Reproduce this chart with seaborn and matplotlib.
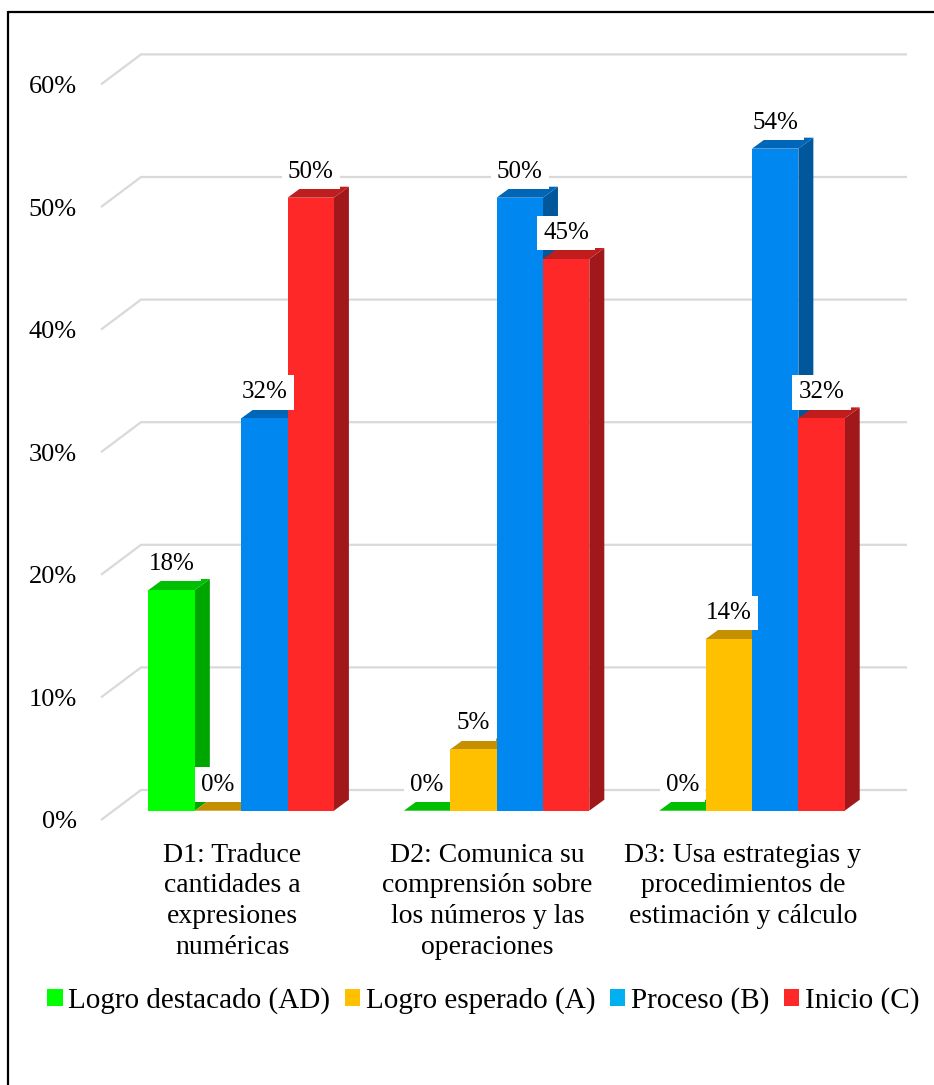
import matplotlib
matplotlib.use("Agg")
import matplotlib.pyplot as plt
import matplotlib.transforms as mtransforms
from matplotlib.colors import to_hex
from matplotlib.patches import Polygon, Patch
from matplotlib.lines import Line2D
import seaborn as sns
import pandas as pd

# ---- data -------------------------------------------------------------
categories = [
    "D1: Traduce\ncantidades a\nexpresiones\nnuméricas",
    "D2: Comunica su\ncomprensión sobre\nlos números y las\noperaciones",
    "D3: Usa estrategias y\nprocedimientos de\nestimación y cálculo",
]
levels = ["Logro destacado (AD)", "Logro esperado (A)", "Proceso (B)", "Inicio (C)"]
logro_destacado = [18, 0, 0]
logro_esperado = [0, 5, 14]
proceso = [32, 50, 54]
inicio = [50, 45, 32]
y_ticks = [0, 10, 20, 30, 40, 50, 60]

# ---- colours (front, side, top faces) and legend swatches -------------
front_colors = ["#00FF00", "#FFC000", "#0088F0", "#FF2828"]
side_colors = ["#00A600", "#B38600", "#00579B", "#A0181A"]
top_colors = ["#00BE00", "#C49000", "#0067B8", "#C01E1E"]
legend_colors = ["#00FF00", "#FFC000", "#00B0F0", "#FF2828"]

df = pd.DataFrame({
    "dimension": categories * 4,
    "nivel": [lv for lv in levels for _ in categories],
    "porcentaje": logro_destacado + logro_esperado + proceso + inicio,
})

sns.set_style("white")
plt.rcParams["font.family"] = ["Liberation Serif", "DejaVu Serif"]
plt.rcParams["text.color"] = "black"
plt.rcParams["xtick.color"] = "black"
plt.rcParams["ytick.color"] = "black"
plt.rcParams["axes.labelcolor"] = "black"

W, H, DPI = 934, 1085, 100
fig = plt.figure(figsize=(W / DPI, H / DPI), dpi=DPI)

# axes box in pixels
ax_left, ax_right, ax_top, ax_bottom = 101, 907, 40, 830
ax = fig.add_axes([ax_left / W, 1 - ax_bottom / H,
                   (ax_right - ax_left) / W, (ax_bottom - ax_top) / H])

sns.barplot(data=df, x="dimension", y="porcentaje", hue="nivel",
            hue_order=levels, palette=front_colors, saturation=1,
            width=0.726, gap=0, linewidth=0, edgecolor="none",
            legend=False, ax=ax)

# pixel scale of the plotting plane
px_per_x = 255.4
px_per_y = 12.26
base_px = 810.7
xlim = (-(241.2 - ax_left) / px_per_x, (ax_right - 241.2) / px_per_x)
ylim = (-(ax_bottom - base_px) / px_per_y, (base_px - ax_top) / px_per_y)
ax.set_xlim(*xlim)
ax.set_ylim(*ylim)

# back wall and floor gridlines (perspective)
wall_dx, wall_dy = 40 / px_per_x, 20.7 / px_per_y
front_dy = -9.3 / px_per_y
for v in y_ticks:
    ax.plot([xlim[0], xlim[0] + wall_dx, xlim[1]],
            [v + front_dy, v + wall_dy, v + wall_dy],
            color="#D9D9D9", lw=1.6, zorder=0.5, clip_on=False,
            solid_capstyle="butt", solid_joinstyle="miter")

# 3D faces for every bar
depth_dx, depth_dy = 15 / px_per_x, 11 / px_per_y
hex_front = [to_hex(c) for c in front_colors]
bars = sorted(ax.patches, key=lambda p: p.get_x())
for i, bar in enumerate(bars):
    k = hex_front.index(to_hex(bar.get_facecolor()))
    x0 = bar.get_x()
    x1 = x0 + bar.get_width()
    h = bar.get_height()
    z = 2 + 3 * i
    side = Polygon([(x1, 0), (x1 + depth_dx, depth_dy),
                    (x1 + depth_dx, h + depth_dy), (x1, h)],
                   closed=True, fc=side_colors[k], ec="none", zorder=z)
    top = Polygon([(x0, h), (x0 + depth_dx, h + depth_dy),
                   (x1 + depth_dx, h + depth_dy), (x1, h)],
                  closed=True, fc=top_colors[k], ec="none", zorder=z + 1)
    ax.add_patch(side)
    ax.add_patch(top)
    bar.set_zorder(z + 2)
    ax.annotate(f"{h:.0f}%", xy=((x0 + x1) / 2, h), xytext=(0, 18.7),
                textcoords="offset points", ha="center", va="center",
                fontsize=18, color="black", zorder=200,
                bbox=dict(boxstyle="square,pad=0.25", fc="white", ec="none"))

# axes styling
for s in ax.spines.values():
    s.set_visible(False)
ax.set_xlabel("")
ax.set_ylabel("")
ax.set_yticks(y_ticks)
ax.set_yticklabels([f"{v}%" for v in y_ticks])
ax.tick_params(axis="y", length=0, pad=17.3, labelsize=19, labelcolor="black")
ax.tick_params(axis="x", length=0, pad=9, labelsize=20, labelcolor="black")

shift_y = mtransforms.ScaledTranslation(0, -9.3 / DPI, fig.dpi_scale_trans)
for lab in ax.get_yticklabels():
    lab.set_transform(lab.get_transform() + shift_y)
shift_x = mtransforms.ScaledTranslation(-9 / DPI, 0, fig.dpi_scale_trans)
for lab in ax.get_xticklabels():
    lab.set_transform(lab.get_transform() + shift_x)
    lab.set_linespacing(1.3)
    lab.set_ha("center")
    lab.set_multialignment("center")

# legend
handles = [Patch(facecolor=c, edgecolor="none", label=l)
           for c, l in zip(legend_colors, levels)]
leg = fig.legend(handles=handles, loc="center",
                 bbox_to_anchor=(483.5 / W, 1 - 1000.5 / H), ncol=4,
                 frameon=False, fontsize=21, handlelength=0.52,
                 handleheight=0.52, handletextpad=0.2, columnspacing=0.5,
                 borderaxespad=0, borderpad=0, labelcolor="black")

# outer frame
fig.add_artist(Line2D([8 / W, 8 / W], [0, 1 - 12 / H], transform=fig.transFigure,
                      color="black", lw=1.6))
fig.add_artist(Line2D([8 / W, 1], [1 - 12 / H, 1 - 12 / H],
                      transform=fig.transFigure, color="black", lw=1.6))

fig.savefig("out.png", dpi=DPI, facecolor="white")
